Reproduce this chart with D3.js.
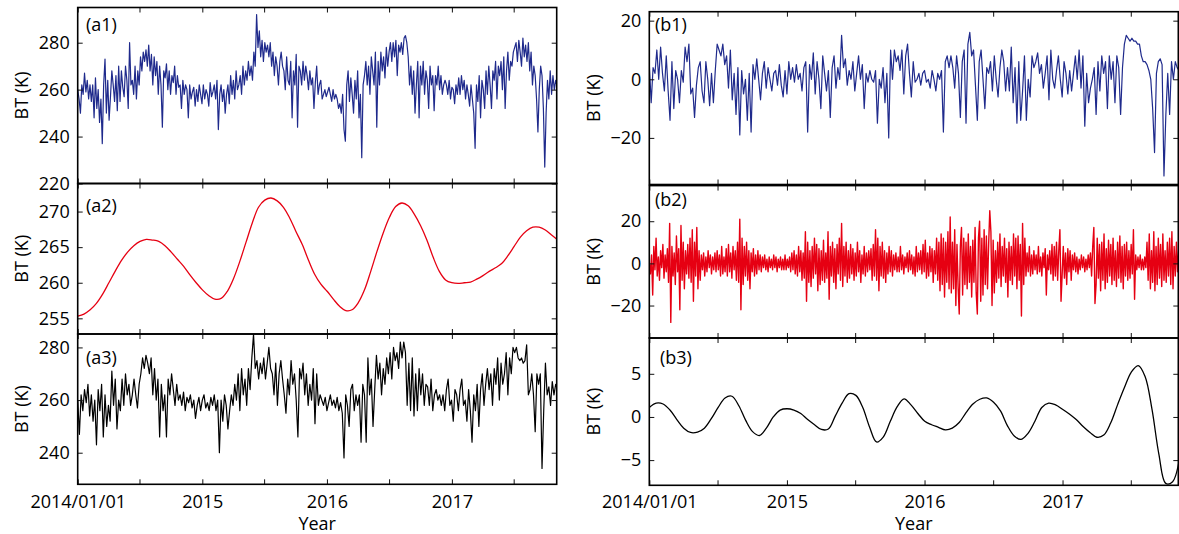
<!DOCTYPE html>
<html>
<head>
<meta charset="utf-8">
<script src="https://cdn.jsdelivr.net/npm/d3@7"></script>
<style>
  body { margin: 0; background: #fff; }
  svg text { font-family: "Open Sans", sans-serif; font-size: 18px; fill: #000; }
</style>
</head>
<body>
<div id="chart"></div>
<script>
// ---- data ----
// sampling: a1 every 4 days, a3/b1 every 5 days, b2 every 3 days, a2/b3 every 0.05 yr
const a1Values = [
  260,256,250,262,258,267,259,264,256,262, 255,262,248,265,252,260,246,256,237,262,
  273,250,264,247,257,268,262,255,266,251, 270,255,268,261,257,270,264,252,280,262,
  264,258,270,256,268,262,274,268,276,272, 277,270,279,268,275,262,274,266,272,258,
  270,262,244,268,265,271,260,268,258,266, 263,270,258,266,261,262,252,264,258,262,
  260,248,262,256,259,261,253,260,255,262, 258,254,262,256,260,258,253,263,257,259,
  262,256,264,243,258,262,255,260,250,258, 262,254,266,258,264,256,268,260,262,266,
  258,270,262,268,264,272,266,270,264,276, 270,292,278,285,274,281,272,280,276,279,
  274,280,270,276,266,274,270,262,272,276, 270,268,260,274,264,262,272,248,268,262,
  275,244,270,268,262,272,264,270,266,260, 268,262,265,252,263,270,258,262,264,256,
  258,260,257,259,261,258,255,260,256,258, 256,252,254,250,258,243,238,262,268,255,
  265,258,250,264,256,268,248,258,231,262, 266,272,262,270,258,274,268,262,276,244,
  272,262,276,268,274,265,278,270,276,280, 272,280,274,281,266,279,276,280,275,282,
  283,280,274,262,270,258,268,250,262,272, 248,270,262,272,258,268,264,252,270,262,
  266,251,266,262,270,260,266,258,262,264, 262,258,264,256,261,260,254,262,258,265,
  258,266,260,264,256,262,258,253,262,256, 250,235,262,255,266,248,264,260,252,268,
  258,270,262,252,268,264,272,256,270,266, 272,260,274,252,268,276,264,272,270,276,
  278,280,272,281,276,270,282,274,279,272, 280,268,276,262,270,266,256,242,260,270,
  266,252,227,250,264,256,268,258,266,260,264,262
];
const a2Values = [
  255.3,255.6,256.2,257.1,258.4,260.0,261.6,263.1,264.3,265.2,265.8,266.1,266.0,265.8,265.2,264.3,
  263.3,262.3,261.1,260.0,259.0,258.2,257.7,257.8,258.8,260.6,263.0,265.7,268.4,270.6,271.6,271.9,
  271.5,270.6,269.1,267.2,265.4,263.2,261.2,259.8,258.8,257.7,256.7,256.1,256.2,257.2,259.0,261.6,
  264.4,267.0,269.2,270.7,271.2,270.8,269.6,268.0,266.0,263.6,261.6,260.4,260.0,259.9,260.0,260.1,
  260.5,261.0,261.6,262.1,262.7,263.8,265.1,266.4,267.3,267.8,267.8,267.4,266.7,266.0
];
const a3Values = [
  260,247,262,256,264,259,266,254,262,252, 260,243,264,256,266,246,262,250,258,252,
  271,258,268,249,260,256,268,258,270,262, 266,258,262,268,262,257,266,270,276,272,
  277,274,270,276,262,272,260,268,246,266, 256,262,246,268,262,270,264,258,266,260,
  262,258,263,256,261,259,262,257,260,253, 258,261,256,260,262,257,259,256,261,258,
  262,256,260,240,260,252,262,258,249,256, 262,258,266,260,270,256,272,262,268,258,
  272,264,276,285,272,275,268,274,270,276, 268,274,280,272,270,262,274,258,270,275,
  268,262,255,268,262,275,266,270,260,246, 272,268,274,262,270,258,266,260,272,251,
  270,258,262,260,258,261,256,259,262,258, 260,257,261,256,259,255,238,262,258,250,
  264,266,256,262,258,262,244,266,262,244, 276,262,268,250,264,277,268,274,262,272,
  266,276,270,278,268,280,275,278,272,282, 276,282,278,258,274,256,276,254,270,256,
  272,262,270,258,266,265,258,268,256,262, 264,260,262,258,262,256,264,268,258,260,
  252,264,262,256,264,268,258,260,252,264, 256,244,262,256,266,250,264,270,258,266,
  272,264,270,258,272,266,276,260,274,266, 270,278,262,276,270,280,278,280,276,275,
  276,274,275,281,262,264,270,262,248,270, 266,270,234,256,274,262,265,258,267,262,266,264
];
const b1Values = [
  5,-8,4,2,10,0,11,2,-4,8, -4,-14,6,-10,3,0,-8,3,-1,11,
  6,12,-5,-3,-13,-2,4,6,-4,-8, 6,0,-9,2,-8,3,12,10,8,12,
  5,8,-3,10,-7,2,-12,4,-19,3, -5,0,-14,2,-18,5,0,7,0,-7,
  2,6,-3,4,0,-4,2,3,-2,5, -2,-6,3,-5,6,0,4,-1,5,0,
  2,-4,4,6,-18,5,0,9,-5,6, 0,-10,8,2,-4,3,-13,4,8,-3,
  4,0,15,4,7,-2,3,0,6,-4, 2,8,0,5,-10,2,-1,3,0,-1,
  3,-15,0,-3,4,-8,2,-20,10,0, 10,6,8,3,10,-5,8,12,2,-6,
  6,-1,0,2,-2,2,3,-1,0,-3, 3,0,-4,2,0,3,-18,6,8,4,
  8,4,-3,8,2,-13,6,10,-15,12, 16,8,10,-2,-14,6,10,0,-10,4,
  2,6,-4,8,0,-6,4,10,6,-4, 4,-4,11,-8,4,-15,6,-14,-4,8,
  -14,0,-6,8,4,6,9,2,5,-3, 2,8,-7,10,0,-3,3,8,0,-6,
  6,2,-5,3,-4,2,8,0,10,-3, 8,-16,2,-8,-3,0,4,-12,6,-4,
  8,2,6,-10,8,0,6,-8,8,4, -12,4,12,15,14,13,14,13,13,12,
  12,8,6,6,5,3,0,-10,-25,2, 6,7,5,-33,-12,2,-12,6,0,6,4,3
];
const b2Values = [
  0,-5,4,-15,8,-3,12,-6,3,-8,6,-2,9,-7,4,-4,7,-9,19,-28,
  8,-6,5,-10,13,-4,7,-22,18,-8,10,-12,6,-5,9,-7,12,-9,16,-18,
  10,-6,17,-12,6,-8,4,-3,5,-6,3,-4,6,-2,4,-5,3,-3,5,-4,
  6,-3,4,-6,8,-5,3,-4,7,-6,9,-4,5,-7,8,-3,6,-8,10,-9,
  21,-22,12,-10,8,-6,10,-8,6,-12,5,-4,7,-6,4,-5,6,-3,4,-4,
  3,-2,4,-3,2,-4,3,-2,2,-3,4,-2,3,-4,2,-2,3,-3,2,-3,
  4,-3,2,-2,3,-4,5,-3,6,-5,4,-6,8,-4,6,-8,5,-7,15,-18,
  10,-9,6,-11,8,-7,12,-5,9,-13,7,-10,6,-8,11,-9,5,-7,15,-17,
  8,-6,10,-9,7,-12,9,-5,12,-8,19,-11,8,-6,10,-9,6,-7,9,-5,
  7,-8,5,-6,10,-4,6,-9,4,-5,8,-6,5,-4,6,-3,7,-8,9,-6,
  16,-8,12,-13,8,-6,10,-7,6,-9,5,-5,8,-4,6,-6,4,-3,5,-4,
  3,-4,8,-3,4,-5,3,-2,5,-4,6,-3,4,-5,3,-6,8,-4,5,-3,
  6,-5,9,-4,11,-7,5,-6,8,-4,7,-9,6,-5,12,-8,10,-13,14,-10,
  12,-16,10,-9,15,-12,22,-14,10,-12,16,-20,9,-11,-24,8,17,-15,12,-10,
  10,-12,14,-9,8,-16,11,-9,17,-14,-24,12,20,-18,12,-15,16,-10,13,-12,
  9,25,15,-20,11,-14,6,-9,10,-7,14,-11,8,-6,12,-9,7,-16,10,-8,
  8,-10,14,-6,12,-12,13,-8,9,-25,19,-10,12,-6,5,-4,8,-6,4,-5,
  6,-3,4,-5,8,-4,3,-6,5,-2,7,-15,4,-3,6,-5,9,-8,8,-6,
  10,-8,6,16,-18,-5,8,-7,5,-10,7,-4,6,-8,4,-3,5,-4,3,-5,
  2,-3,4,-2,3,-4,2,-3,4,-2,5,-6,8,17,-19,-10,12,-7,9,-13,
  10,-8,14,-12,7,-9,11,-6,9,-10,12,-8,6,-11,10,-7,13,-9,8,-12,
  9,-6,10,-8,6,-7,9,-5,16,-17,4,-3,3,-2,4,-3,2,-3,3,-2,
  10,-8,14,-12,6,-9,15,-13,8,-10,12,-7,9,-11,14,-8,6,-9,10,-6,
  12,-10,15,-12,8,-6,10,-4,6
];
const b3Values = [
  1.1,1.6,1.5,0.8,-0.3,-1.3,-1.8,-1.75,-1.3,-0.2,1.1,2.2,2.4,1.3,-0.4,-1.7,
  -2.15,-1.3,0.0,0.8,0.95,0.8,0.4,-0.3,-0.9,-1.45,-1.4,0.1,1.6,2.7,2.5,1.1,
  -1.2,-2.9,-2.3,-0.5,1.2,2.1,1.4,0.4,-0.5,-0.9,-1.2,-1.5,-1.3,-0.65,0.5,1.5,
  2.05,2.2,1.7,0.7,-1.0,-2.2,-2.6,-1.9,-0.5,1.1,1.6,1.4,0.9,0.35,-0.3,-1.1,
  -1.8,-2.35,-2.1,-0.7,1.4,3.4,5.2,5.95,4.7,0.9,-4.3,-7.7,-7.5,-4.8
];
const xTicks = ["2014/01/01","2014/07/01","2015/01/01","2015/07/01","2016/01/01","2016/07/01","2017/01/01","2017/07/01"];
const xTickLabels = ["2014/01/01","","2015","","2016","","2017",""];

// ---- helpers ----
const start = new Date(2014, 0, 1);
const end = new Date(2017, 10, 4);
const dayMs = 864e5;
const yearDays = 365.25;
const series = (vals, stepDays) =>
  vals.map((v, i) => ({ date: new Date(start.getTime() + i * stepDays * dayMs), v: v }));
const parseTick = d3.timeParse("%Y/%m/%d");
const xTickDates = xTicks.map(parseTick);

const navy = "#1f2a8c", red = "#e60012", black = "#000";

const L = { x0: 77.7, x1: 556.7 }, R = { x0: 649.3, x1: 1178.3 };

const panels = [
  { ...L, y0: 7.5,  y1: 183.5, dom: [220, 295],      ticks: [220, 240, 260, 280], data: series(a1Values, 4),  color: navy,  lw: 1.2, label: "(a1)", lx: 86,  ly: 31 },
  { ...L, y0: 183.5,y1: 334,   dom: [252.8, 273.94], ticks: [255, 260, 265, 270], data: series(a2Values, 0.05 * yearDays), color: red, lw: 1.3, smooth: true, label: "(a2)", lx: 86, ly: 212 },
  { ...L, y0: 334,  y1: 484.3, dom: [228, 285.1],    ticks: [240, 260, 280],      data: series(a3Values, 5),  color: black, lw: 1.2, label: "(a3)", lx: 86,  ly: 364, bottom: true },
  { ...R, y0: 11.7, y1: 184.5, dom: [-35.9, 23.06],  ticks: [-20, 0, 20],         data: series(b1Values, 5),  color: navy,  lw: 1.2, label: "(b1)", lx: 655, ly: 31 },
  { ...R, y0: 185.6,y1: 338,   dom: [-35.4, 36.9],   ticks: [-20, 0, 20],         data: series(b2Values, 3),  color: red,   lw: 1.4, label: "(b2)", lx: 655, ly: 206 },
  { ...R, y0: 338,  y1: 485.3, dom: [-7.92, 9.15],   ticks: [-5, 0, 5],           data: series(b3Values, 0.05 * yearDays), color: black, lw: 1.3, smooth: true, label: "(b3)", lx: 660, ly: 364, bottom: true }
];

const svg = d3.select("#chart").append("svg")
  .attr("width", 1179)
  .attr("height", 534);

panels.forEach((p, k) => {
  const x = d3.scaleTime().domain([start, end]).range([p.x0, p.x1]);
  const y = d3.scaleLinear().domain(p.dom).range([p.y1, p.y0]);
  const g = svg.append("g");

  // clip so the line stays inside the box
  svg.append("clipPath").attr("id", "clip" + k)
    .append("rect")
    .attr("x", p.x0).attr("y", p.y0)
    .attr("width", p.x1 - p.x0).attr("height", p.y1 - p.y0);

  const line = d3.line()
    .x(d => x(d.date))
    .y(d => y(d.v))
    .curve(p.smooth ? d3.curveCatmullRom : d3.curveLinear);

  g.append("path")
    .datum(p.data)
    .attr("clip-path", "url(#clip" + k + ")")
    .attr("fill", "none")
    .attr("stroke", p.color)
    .attr("stroke-width", p.lw)
    .attr("stroke-linejoin", "round")
    .attr("d", line);

  // x axes, ticks pointing in
  const xb = g.append("g")
    .attr("transform", "translate(0," + p.y1 + ")")
    .call(d3.axisBottom(x).tickValues(xTickDates).tickSizeInner(-5).tickSizeOuter(0)
      .tickPadding(508.5 - 12.8 - p.y1)
      .tickFormat((d, i) => p.bottom ? xTickLabels[i] : ""));
  const xt = g.append("g")
    .attr("transform", "translate(0," + p.y0 + ")")
    .call(d3.axisTop(x).tickValues(xTickDates).tickSizeInner(-5).tickSizeOuter(0).tickFormat(""));

  // y axes
  const yl = g.append("g")
    .attr("transform", "translate(" + p.x0 + ",0)")
    .call(d3.axisLeft(y).tickValues(p.ticks).tickSizeInner(-5).tickSizeOuter(0).tickPadding(8));
  const yr = g.append("g")
    .attr("transform", "translate(" + p.x1 + ",0)")
    .call(d3.axisRight(y).tickValues(p.ticks).tickSizeInner(-5).tickSizeOuter(0).tickFormat(""));

  [xb, xt, yl, yr].forEach(a => {
    a.select(".domain").remove();
    a.selectAll(".tick line").attr("stroke", "#111").attr("stroke-width", 1);
  });

  // box
  g.append("rect")
    .attr("x", p.x0).attr("y", p.y0)
    .attr("width", p.x1 - p.x0).attr("height", p.y1 - p.y0)
    .attr("fill", "none")
    .attr("stroke", "#000")
    .attr("stroke-width", 1.6);

  // panel tag
  g.append("text").attr("x", p.lx).attr("y", p.ly).text(p.label);

  // y label
  const xc = p.x0 < 300 ? 20.5 : 592.5;
  g.append("text")
    .attr("transform", "translate(" + xc + "," + ((p.y0 + p.y1) / 2) + ") rotate(-90)")
    .attr("text-anchor", "middle")
    .attr("dominant-baseline", "central")
    .text("BT (K)");

  if (p.bottom) {
    g.append("text")
      .attr("x", (p.x0 + p.x1) / 2)
      .attr("y", 529.5)
      .attr("text-anchor", "middle")
      .text("Year");
  }
});
</script>
</body>
</html>
